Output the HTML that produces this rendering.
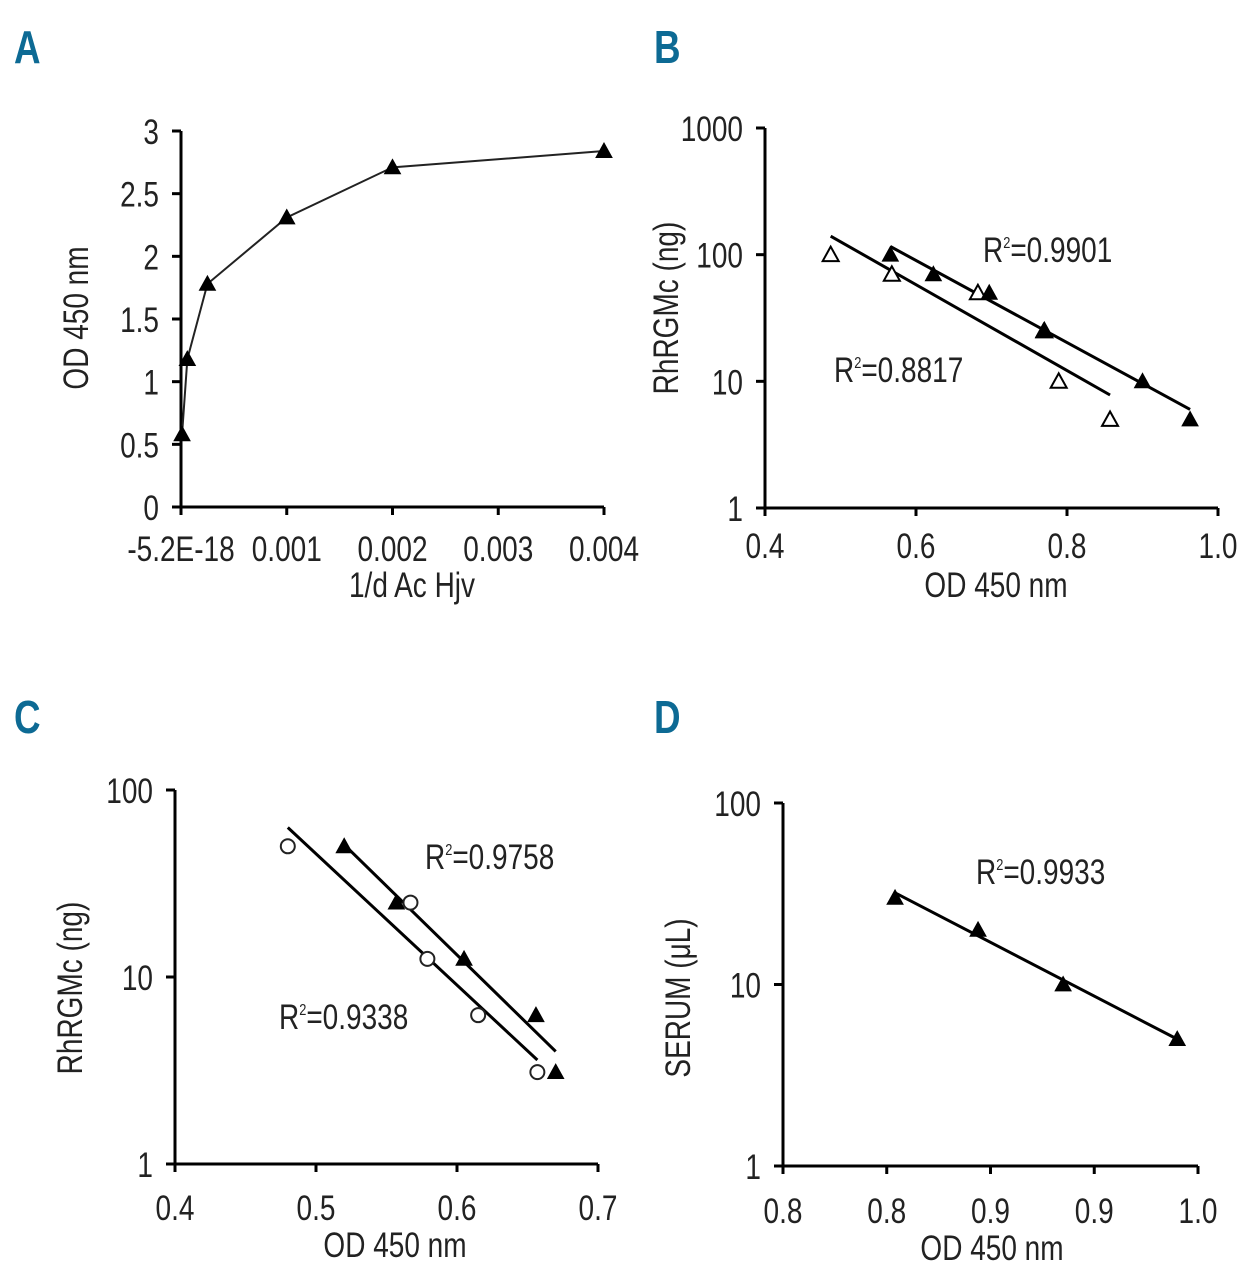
<!DOCTYPE html>
<html><head><meta charset="utf-8"><style>
html,body{margin:0;padding:0;background:#fff;}
svg{display:block;font-family:"Liberation Sans",sans-serif;}
.t{font-size:35px;fill:#222;}
.lab{font-size:46px;font-weight:bold;fill:#0d6a94;}
</style></head><body>
<svg id="fig" width="1238" height="1280" viewBox="0 0 1238 1280"></svg>
<script>
// Panel A data
const aX=[0.00001,0.00006,0.00025,0.001,0.002,0.004];
const aY=[0.58,1.18,1.78,2.31,2.71,2.84];
const aXTicks=[0,0.001,0.002,0.003,0.004];
const aXLabels=["-5.2E-18","0.001","0.002","0.003","0.004"];
const aYTicks=[0,0.5,1,1.5,2,2.5,3];
const aYLabels=["0","0.5","1","1.5","2","2.5","3"];
// Panel B data
const bFilledX=[0.566,0.623,0.697,0.769,0.90,0.963];
const bFilledY=[100,70,50,25,10,5];
const bOpenX=[0.487,0.568,0.682,0.770,0.789,0.857];
const bOpenY=[100,70,50,25,10,5];
const bFilledLineX=[0.566,0.963];
const bFilledLineY=[116,6.0];
const bOpenLineX=[0.487,0.857];
const bOpenLineY=[140,7.8];
const bXTicks=[0.4,0.6,0.8,1.0];
const bXLabels=["0.4","0.6","0.8","1.0"];
const bYTicks=[1,10,100,1000];
const bYLabels=["1","10","100","1000"];
// Panel C data
const cFilledX=[0.52,0.557,0.605,0.656,0.67];
const cFilledY=[50,25,12.5,6.25,3.1];
const cOpenX=[0.48,0.567,0.579,0.615,0.657];
const cOpenY=[50,25,12.5,6.25,3.1];
const cFilledLineX=[0.52,0.67];
const cFilledLineY=[51,4.0];
const cOpenLineX=[0.48,0.657];
const cOpenLineY=[63,3.6];
const cXTicks=[0.4,0.5,0.6,0.7];
const cXLabels=["0.4","0.5","0.6","0.7"];
const cYTicks=[1,10,100];
const cYLabels=["1","10","100"];
// Panel D data
const dX=[0.854,0.894,0.935,0.990];
const dY=[30,20,10,5];
const dLineX=[0.854,0.990];
const dLineY=[32,5.0];
const dXTicks=[0.8,0.85,0.9,0.95,1.0];
const dXLabels=["0.8","0.8","0.9","0.9","1.0"];
const dYTicks=[1,10,100];
const dYLabels=["1","10","100"];

const NS="http://www.w3.org/2000/svg";
const svg=document.getElementById('fig');
const SX=0.8;
function el(tag,attrs,parent){const e=document.createElementNS(NS,tag);for(const k in attrs)e.setAttribute(k,attrs[k]);(parent||svg).appendChild(e);return e;}
function txt(s,x,y,anchor,cls,parent){const e=el('text',{x:0,y:0,'text-anchor':anchor,class:cls,transform:`translate(${x},${y}) scale(${SX},1)`},parent);e.textContent=s;return e;}
function linScale(d0,d1,r0,r1){return v=>r0+(v-d0)/(d1-d0)*(r1-r0);}
function logScale(d0,d1,r0,r1){return v=>r0+(Math.log10(v)-Math.log10(d0))/(Math.log10(d1)-Math.log10(d0))*(r1-r0);}
function tri(g,x,y,filled){const s=8;return el('polygon',{points:`${x},${y-s} ${x-s},${y+s*0.8} ${x+s},${y+s*0.8}`,fill:filled?'#000':'#fff',stroke:'#000','stroke-width':filled?1:2},g);}
function circ(g,x,y){return el('circle',{cx:x,cy:y,r:7,fill:'#fff',stroke:'#222','stroke-width':2},g);}
function axes(g,x0,x1,y0,y1,xs,ys,xt,xl,yt,yl,xlabY){
  const ax=el('line',{x1:x0,y1:y0,x2:x1,y2:y0,stroke:'#000','stroke-width':3},g);
  
  const ay=el('line',{x1:x0,y1:y0,x2:x0,y2:y1,stroke:'#000','stroke-width':3},g);
  
  xt.forEach((v,i)=>{const x=xs(v);el('line',{x1:x,y1:y0,x2:x,y2:y0+8,stroke:'#000','stroke-width':3},g);
    const t=txt(xl[i],x,xlabY,'middle','t',g);});
  yt.forEach((v,i)=>{const y=ys(v);el('line',{x1:x0-9,y1:y,x2:x0,y2:y,stroke:'#000','stroke-width':3},g);
    const t=txt(yl[i],x0-22,y+13,'end','t',g);});
}
function ytitle(g,s,x,y){const t=el('text',{x:0,y:0,'text-anchor':'middle',class:'t',transform:`translate(${x},${y}) rotate(-90) scale(${SX},1)`},g);t.textContent=s;}
function xtitle(g,s,x,y){const t=txt(s,x,y,'middle','t',g);}
function r2(g,s,x,y){const t=el('text',{x:0,y:0,class:'t',transform:`translate(${x},${y}) scale(${SX},1)`},g);t.innerHTML='R<tspan font-size="16" dy="-14">2</tspan><tspan dy="14">='+s+'</tspan>';}
function panelLabel(s,x,y){const t=txt(s,x,y,'start','lab');}

// Panel A
panelLabel('A',14,63);
{const g=el('g',{});
 const xs=linScale(0,0.004,181,604), ys=linScale(0,3,507,131);
 axes(g,181,604,507,131,xs,ys,aXTicks,aXLabels,aYTicks,aYLabels,561);
 const p=el('polyline',{points:aX.map((v,i)=>xs(v)+','+ys(aY[i])).join(' '),fill:'none',stroke:'#222','stroke-width':2},g);
 
 aX.forEach((v,i)=>{const m=tri(g,xs(v),ys(aY[i]),true);});
 ytitle(g,'OD 450 nm',88,318);xtitle(g,'1/d Ac Hjv',412,597);}

// Panel B
panelLabel('B',654,63);
{const g=el('g',{});
 const xs=linScale(0.4,1.0,765,1218), ys=logScale(1,1000,508,128);
 axes(g,765,1218,508,128,xs,ys,bXTicks,bXLabels,bYTicks,bYLabels,558);
 const l1=el('line',{x1:xs(bFilledLineX[0]),y1:ys(bFilledLineY[0]),x2:xs(bFilledLineX[1]),y2:ys(bFilledLineY[1]),stroke:'#000','stroke-width':3},g);
 
 const l2=el('line',{x1:xs(bOpenLineX[0]),y1:ys(bOpenLineY[0]),x2:xs(bOpenLineX[1]),y2:ys(bOpenLineY[1]),stroke:'#000','stroke-width':3},g);
 
 bOpenX.forEach((v,i)=>{const m=tri(g,xs(v),ys(bOpenY[i]),false);});
 bFilledX.forEach((v,i)=>{const m=tri(g,xs(v),ys(bFilledY[i]),true);});
 r2(g,'0.9901',983,262);r2(g,'0.8817',834,382);
 ytitle(g,'RhRGMc (ng)',678,308);xtitle(g,'OD 450 nm',996,597);}

// Panel C
panelLabel('C',14,733);
{const g=el('g',{});
 const xs=linScale(0.4,0.7,175,598), ys=logScale(1,100,1164,790);
 axes(g,175,598,1164,790,xs,ys,cXTicks,cXLabels,cYTicks,cYLabels,1220);
 const l1=el('line',{x1:xs(cFilledLineX[0]),y1:ys(cFilledLineY[0]),x2:xs(cFilledLineX[1]),y2:ys(cFilledLineY[1]),stroke:'#000','stroke-width':3},g);
 
 const l2=el('line',{x1:xs(cOpenLineX[0]),y1:ys(cOpenLineY[0]),x2:xs(cOpenLineX[1]),y2:ys(cOpenLineY[1]),stroke:'#000','stroke-width':3},g);
 
 cOpenX.forEach((v,i)=>{const m=circ(g,xs(v),ys(cOpenY[i]));});
 cFilledX.forEach((v,i)=>{const m=tri(g,xs(v),ys(cFilledY[i]),true);});
 r2(g,'0.9758',425,869);r2(g,'0.9338',279,1029);
 ytitle(g,'RhRGMc (ng)',82,988);xtitle(g,'OD 450 nm',395,1257);}

// Panel D
panelLabel('D',654,733);
{const g=el('g',{});
 const xs=linScale(0.8,1.0,783,1198), ys=logScale(1,100,1166,803);
 axes(g,783,1198,1166,803,xs,ys,dXTicks,dXLabels,dYTicks,dYLabels,1223);
 const l1=el('line',{x1:xs(dLineX[0]),y1:ys(dLineY[0]),x2:xs(dLineX[1]),y2:ys(dLineY[1]),stroke:'#000','stroke-width':3},g);
 
 dX.forEach((v,i)=>{const m=tri(g,xs(v),ys(dY[i]),true);});
 r2(g,'0.9933',976,884);
 ytitle(g,'SERUM (\u03bcL)',690,998);xtitle(g,'OD 450 nm',992,1260);}
</script>
</body></html>
